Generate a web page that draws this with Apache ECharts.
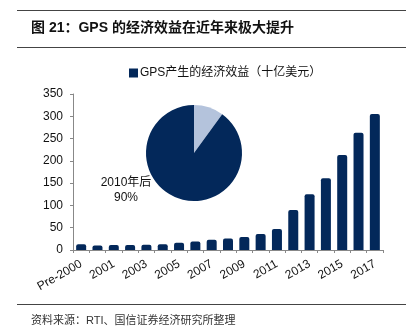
<!DOCTYPE html>
<html>
<head>
<meta charset="utf-8">
<script src="https://cdn.jsdelivr.net/npm/echarts@6/dist/echarts.min.js"></script>
<style>
html,body{margin:0;padding:0;background:#fff;}
#c{width:417px;height:332px;}
</style>
</head>
<body>
<div id="c"></div>
<script>
const categories = ['Pre-2000','2000','2001','2002','2003','2004','2005','2006','2007','2008','2009','2010','2011','2012','2013','2014','2015','2016','2017'];
const benefitValues = [13, 10, 11, 11, 12, 13, 16, 19, 23, 26, 29, 36, 47, 90, 125, 161, 213, 263, 305];
const pieNames = ['2010年前', '2010年后'];
const pieValues = [10, 90];
const yTicks = [0, 350, 50];

const chart = echarts.init(document.getElementById('c'), null, {renderer: 'canvas'});
const dark = '#03285a';
const light = '#b4c3dc';
const font = 'Liberation Sans, Arial, sans-serif';
const cjk = 'Liberation Sans, "Noto Sans CJK SC", sans-serif';

chart.setOption({
  animation: false,
  backgroundColor: '#fff',
  title: [{
    text: '图 21：GPS 的经济效益在近年来极大提升',
    left: 26, top: 16,
    textStyle: {fontSize: 14, fontWeight: 'bold', color: '#111', fontFamily: cjk}
  }, {
    text: '资料来源：RTI、国信证券经济研究所整理',
    left: 26, top: 310,
    textStyle: {fontSize: 11, fontWeight: 'normal', color: '#333', fontFamily: cjk}
  }],
  graphic: [
    {type: 'line', shape: {x1: 17, y1: 10.5, x2: 406, y2: 10.5}, style: {stroke: '#444', lineWidth: 1}},
    {type: 'line', shape: {x1: 17, y1: 47.5, x2: 406, y2: 47.5}, style: {stroke: '#444', lineWidth: 1}},
    {type: 'line', shape: {x1: 17, y1: 304.5, x2: 406, y2: 304.5}, style: {stroke: '#444', lineWidth: 1}}
  ],
  legend: {
    data: ['GPS产生的经济效益（十亿美元）'],
    left: 124, top: 62,
    icon: 'rect', itemWidth: 9, itemHeight: 9, itemGap: 2,
    textStyle: {fontSize: 12, color: '#111', fontFamily: cjk, padding: [0,0,0,-3]}
  },
  grid: {left: 73, right: 34, top: 94, bottom: 82, containLabel: false},
  xAxis: {
    type: 'category',
    data: categories,
    boundaryGap: true,
    axisLine: {lineStyle: {color: '#888', width: 1}},
    axisTick: {show: true, length: 3, lineStyle: {color: '#888'}, interval: 0},
    axisLabel: {interval: 1, rotate: 30, fontSize: 12, color: '#111', fontFamily: font, margin: 13}
  },
  yAxis: {
    type: 'value',
    min: yTicks[0], max: yTicks[1], interval: yTicks[2],
    splitLine: {show: false},
    axisLine: {show: true, lineStyle: {color: '#888', width: 1}},
    axisTick: {show: true, length: 3, lineStyle: {color: '#888'}},
    axisLabel: {fontSize: 12, color: '#111', fontFamily: font, margin: 10}
  },
  series: [{
    name: 'GPS产生的经济效益（十亿美元）',
    type: 'bar',
    data: benefitValues,
    barWidth: 10,
    itemStyle: {color: dark, borderRadius: [2,2,0,0]}
  }, {
    name: 'pie',
    type: 'pie',
    center: [194, 153],
    radius: 48,
    startAngle: 90,
    clockwise: true,
    data: pieNames.map((n, i) => ({
      name: n, value: pieValues[i],
      itemStyle: {color: i === 0 ? light : dark},
      label: {show: i === 1}
    })),
    label: {
      position: 'outside',
      formatter: p => '2010年后\n{v|' + p.percent.toFixed(0) + '%}',
      fontSize: 12, color: '#111', fontFamily: cjk, align: 'center', lineHeight: 15,
      rich: {v: {fontSize: 12, fontFamily: font, color: '#111', align: 'center'}}
    },
    labelLine: {show: false},
    labelLayout: {x: 126, y: 190, align: 'center', verticalAlign: 'middle'},
    emphasis: {disabled: true}
  }]
});
</script>
</body>
</html>
